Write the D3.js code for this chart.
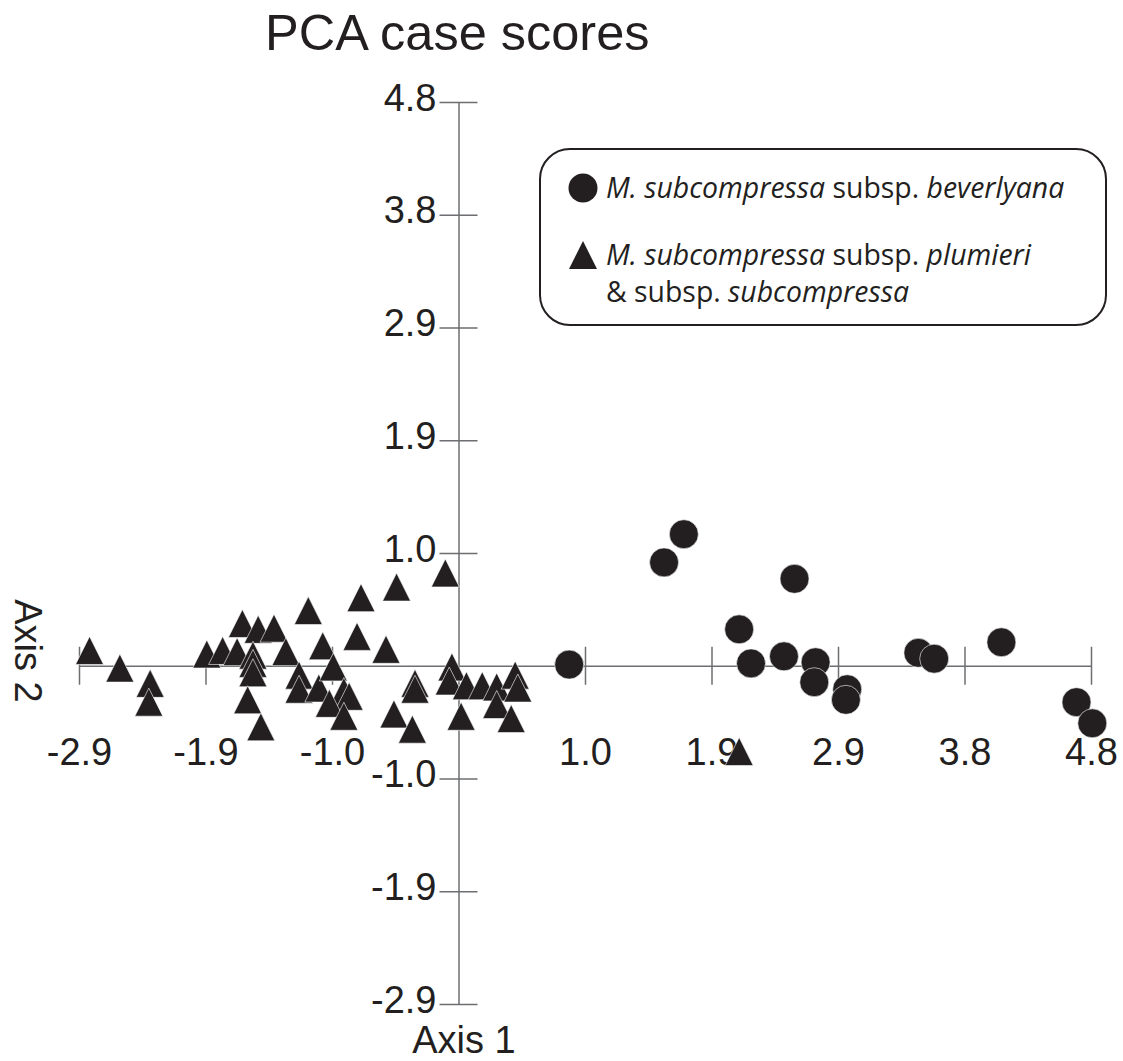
<!DOCTYPE html>
<html>
<head>
<meta charset="utf-8">
<script src="https://cdn.jsdelivr.net/npm/d3@7"></script>
<style>
  body { margin: 0; background: #fff; }
  .axis text { font-family: "Liberation Sans", Arial, sans-serif; font-size: 38px; fill: #231f20; }
</style>
</head>
<body>
<svg class="chart_svg"></svg>
<script>
// PCA case scores, axis 1 vs axis 2
const beverlyanaX = [0.84, 1.56, 1.71, 2.55, 2.13, 2.22, 2.47, 2.71, 2.70, 2.95, 2.94, 3.49, 3.61, 4.12, 4.69, 4.81];
const beverlyanaY = [0.01, 0.88, 1.12, 0.74, 0.31, 0.02, 0.08, 0.03, -0.14, -0.20, -0.29, 0.11, 0.06, 0.20, -0.31, -0.49];

const plumieriX = [-2.80, -2.57, -2.34, -2.35, -1.91, -1.79, -1.68, -1.64, -1.52, -1.40, -1.56, -1.56,
  -1.56, -1.60, -1.50, -1.31, -1.21, -1.21, -1.14, -1.03, -1.06, -0.95, -0.87, -0.83, -0.98, -0.87,
  -0.74, -0.77, -0.55, -0.47, -0.10, -0.33, -0.33, -0.49, -0.35, -0.05, -0.07, 0.06, 0.18, 0.29,
  0.43, 0.45, 0.29, 0.02, 0.40, 2.13];
const plumieriY = [0.13, -0.02, -0.15, -0.31, 0.10, 0.13, 0.12, 0.36, 0.31, 0.32, 0.09, 0.02,
  -0.06, -0.29, -0.52, 0.12, -0.08, -0.20, 0.47, 0.17, -0.19, -0.01, -0.22, -0.26, -0.32, -0.43,
  0.58, 0.25, 0.14, 0.67, 0.79, -0.15, -0.20, -0.41, -0.54, -0.01, -0.13, -0.17, -0.17, -0.18,
  -0.08, -0.19, -0.33, -0.43, -0.45, -0.73];

const tickValues = [-2.88, -1.92, -0.96, 0.96, 1.92, 2.88, 3.84, 4.8];
const tickLabels = ["-2.9", "-1.9", "-1.0", "1.0", "1.9", "2.9", "3.8", "4.8"];

const markColor = "#231f20";
const axisColor = "#6d6e71";

const svg = d3.select(".chart_svg")
  .attr("width", 1123)
  .attr("height", 1061);

const x_scale = d3.scaleLinear().domain([-2.88, 4.8]).range([79, 1091]);
const y_scale = d3.scaleLinear().domain([-2.88, 4.8]).range([1004, 102]);

// title
svg.append("text")
  .attr("x", 265)
  .attr("y", 50)
  .style("font-family", "Liberation Sans, Arial, sans-serif")
  .style("font-size", "50.5px")
  .style("fill", markColor)
  .text("PCA case scores");

// x axis (crossing at y = 0)
const xAxis = svg.append("g")
  .attr("class", "axis")
  .attr("transform", `translate(0,${y_scale(0)})`)
  .call(d3.axisBottom(x_scale).tickValues(tickValues).tickFormat((d, i) => tickLabels[i]).tickSizeOuter(0));
xAxis.select(".domain").attr("stroke", axisColor).attr("stroke-width", 1.5);
xAxis.selectAll(".tick line").attr("stroke", axisColor).attr("stroke-width", 1.5).attr("y1", -19).attr("y2", 19);
xAxis.selectAll(".tick text").attr("y", 99).attr("dy", 0);

// y axis (crossing at x = 0)
const yAxis = svg.append("g")
  .attr("class", "axis")
  .attr("transform", `translate(${x_scale(0)},0)`)
  .call(d3.axisLeft(y_scale).tickValues(tickValues).tickFormat((d, i) => tickLabels[i]).tickSizeOuter(0));
yAxis.select(".domain").attr("stroke", axisColor).attr("stroke-width", 1.5);
yAxis.selectAll(".tick line").attr("stroke", axisColor).attr("stroke-width", 1.5).attr("x1", -19).attr("x2", 19);
yAxis.selectAll(".tick text").attr("x", -22).attr("dy", 8);

// axis titles
svg.append("text")
  .attr("x", 464)
  .attr("y", 1053)
  .style("text-anchor", "middle")
  .style("font-family", "Liberation Sans, Arial, sans-serif")
  .style("font-size", "38px")
  .style("fill", markColor)
  .text("Axis 1");

svg.append("text")
  .attr("transform", "translate(15,651) rotate(90)")
  .style("text-anchor", "middle")
  .style("font-family", "Liberation Sans, Arial, sans-serif")
  .style("font-size", "38px")
  .style("fill", markColor)
  .text("Axis 2");

const triPath = "M0,-14L14,14L-14,14Z";

// triangles
svg.append("g").selectAll(".tri")
  .data(plumieriX.map((v, i) => [v, plumieriY[i]]))
  .join("path")
  .attr("class", "tri")
  .attr("d", triPath)
  .attr("transform", d => `translate(${x_scale(d[0])},${y_scale(d[1])})`)
  .style("fill", markColor)
  .style("stroke", "#fff")
  .style("stroke-width", 0.6);

// circles
svg.append("g").selectAll(".dot")
  .data(beverlyanaX.map((v, i) => [v, beverlyanaY[i]]))
  .join("circle")
  .attr("class", "dot")
  .attr("cx", d => x_scale(d[0]))
  .attr("cy", d => y_scale(d[1]))
  .attr("r", 14.5)
  .style("fill", markColor)
  .style("stroke", "#fff")
  .style("stroke-width", 0.6);

// legend
const legend = svg.append("g");
legend.append("rect")
  .attr("x", 540).attr("y", 149)
  .attr("width", 566).attr("height", 176)
  .attr("rx", 30).attr("ry", 30)
  .style("fill", "none")
  .style("stroke", markColor)
  .style("stroke-width", 2);

legend.append("circle")
  .attr("cx", 583).attr("cy", 188).attr("r", 14.5)
  .style("fill", markColor);
legend.append("path")
  .attr("d", triPath)
  .attr("transform", "translate(583,255)")
  .style("fill", markColor);

const legendFont = "'Open Sans', sans-serif";
const legendLines = [
  { y: 198, parts: [["M. subcompressa", true], [" subsp. ", false], ["beverlyana", true]] },
  { y: 265, parts: [["M. subcompressa", true], [" subsp. ", false], ["plumieri", true]] },
  { y: 302, parts: [["& subsp. ", false], ["subcompressa", true]] }
];
legendLines.forEach(line => {
  const t = legend.append("text")
    .attr("x", 606).attr("y", line.y)
    .style("font-family", legendFont)
    .style("font-size", "28.4px")
    .style("fill", markColor);
  line.parts.forEach(p => {
    t.append("tspan")
      .style("font-style", p[1] ? "italic" : "normal")
      .text(p[0]);
  });
});
</script>
</body>
</html>
